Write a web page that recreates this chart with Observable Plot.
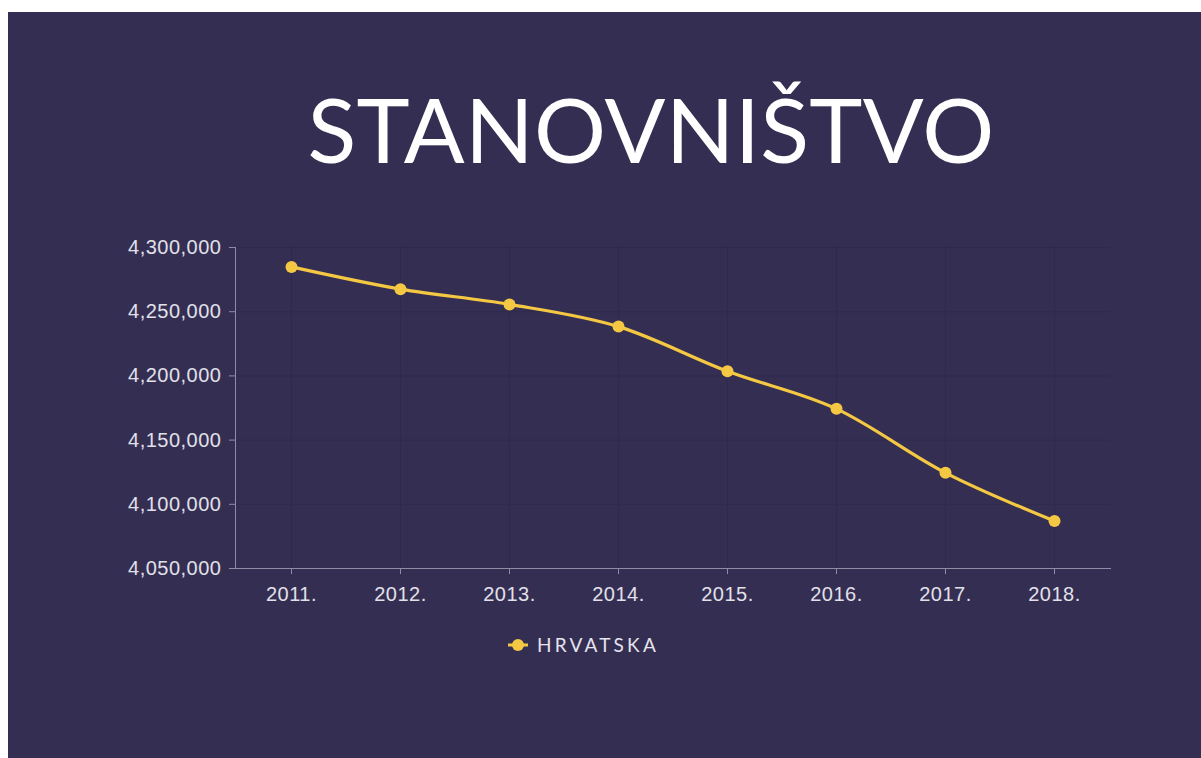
<!DOCTYPE html>
<html>
<head>
<meta charset="utf-8">
<script src="https://cdn.jsdelivr.net/npm/d3@7"></script>
<script src="https://cdn.jsdelivr.net/npm/@observablehq/plot@0.6"></script>
<style>
  html, body { margin: 0; padding: 0; background: #ffffff; width: 1201px; height: 758px; overflow: hidden; }
  #panel { position: absolute; left: 8px; top: 12px; width: 1193px; height: 746px; background: #342f52; }
  #title { position: absolute; left: 643px; top: 71px; transform: translateX(-50%); font-family: Lato, sans-serif; font-size: 90px; color: #ffffff; white-space: nowrap; line-height: 1; letter-spacing: 0.3px; }
  #chart { position: absolute; left: 0; top: 188px; }
  #legend { position: absolute; left: 499px; top: 621px; display: flex; align-items: center; font-family: Lato, sans-serif; font-size: 19px; color: #e6e4ef; letter-spacing: 3.2px; }
  #legend svg { margin-right: 8px; }
  #chart svg text { font-size: 20px; letter-spacing: 0.5px; }
</style>
</head>
<body>
<div id="panel">
  <div id="title">STANOVNIŠTVO</div>
  <div id="chart"></div>
  <div id="legend"></div>
</div>
<script>
const years = ["2011", "2012", "2013", "2014", "2015", "2016", "2017", "2018"];
const population = [4284889, 4267558, 4255689, 4238389, 4203604, 4174349, 4124531, 4087000];
const yTicks = [4050000, 4100000, 4150000, 4200000, 4250000, 4300000];
const seriesName = "HRVATSKA";

const data = years.map((y, i) => ({year: y, pop: population[i]}));
const lineColor = "#f5c843";
const axisColor = "#8f8ca6";
const labelColor = "#e2e0ea";

const chart = Plot.plot({
  width: 1193,
  height: 440,
  marginLeft: 227,
  marginRight: 91,
  marginTop: 47,
  marginBottom: 72,
  style: { background: "transparent", color: labelColor, fontFamily: "'Liberation Sans', Arial, sans-serif", fontSize: "20px" },
  x: { type: "point", domain: years, padding: 0.5, label: null },
  y: { domain: [4050000, 4300000], label: null },
  marks: [
    Plot.gridY(yTicks, { stroke: "#1c1833", strokeOpacity: 0.18 }),
    Plot.gridX(years, { stroke: "#1c1833", strokeOpacity: 0.18 }),
    Plot.axisY(yTicks, { tickFormat: d3.format(","), tickSize: 6, tickPadding: 8, stroke: axisColor, fill: labelColor, fontSize: 20 }),
    Plot.axisX(years, { tickFormat: d => d + ".", tickSize: 6, tickPadding: 12, stroke: axisColor, fill: labelColor, fontSize: 20 }),
    Plot.frame({ anchor: "left", stroke: axisColor }),
    Plot.frame({ anchor: "bottom", stroke: axisColor }),
    Plot.line(data, { x: "year", y: "pop", stroke: lineColor, strokeWidth: 3.2, curve: "monotone-x" }),
    Plot.dot(data, { x: "year", y: "pop", r: 6, fill: lineColor, stroke: null })
  ]
});
document.getElementById("chart").appendChild(chart);

const legend = document.getElementById("legend");
legend.innerHTML = `<svg width="22" height="14"><line x1="1" y1="7" x2="21" y2="7" stroke="${lineColor}" stroke-width="3"/><circle cx="11" cy="7" r="6" fill="${lineColor}"/></svg><span>${seriesName}</span>`;
</script>
</body>
</html>
